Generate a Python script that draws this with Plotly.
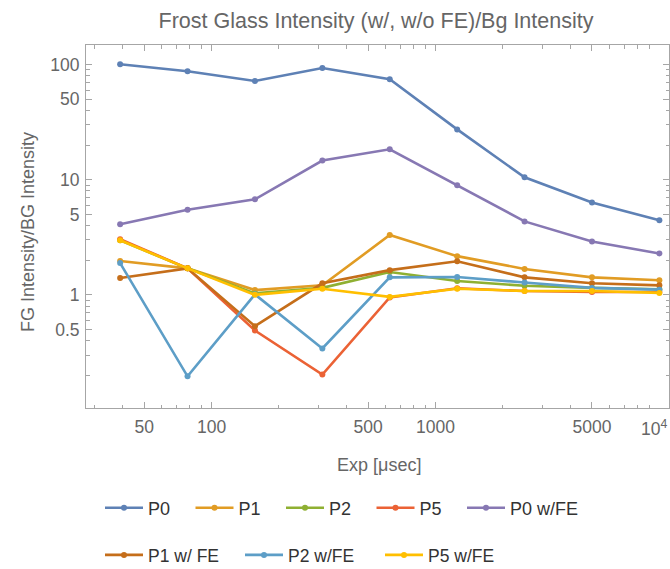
import plotly.graph_objects as go
import numpy as np

exp_us = [39.0625, 78.125, 156.25, 312.5, 625, 1250, 2500, 5000, 10000]

p0 = [100.8, 87.6, 72.2, 93.6, 74.7, 27.4, 10.5, 6.36, 4.44]
p1 = [1.97, 1.70, 1.10, 1.21, 3.31, 2.17, 1.68, 1.42, 1.34]
p2 = [2.98, 1.70, 1.03, 1.15, 1.58, 1.32, 1.20, 1.15, 1.12]
p5 = [3.05, 1.70, 0.49, 0.203, 0.95, 1.14, 1.08, 1.06, 1.06]
p0_fe = [4.10, 5.49, 6.76, 14.7, 18.4, 8.94, 4.35, 2.91, 2.29]
p1_fe = [1.40, 1.70, 0.534, 1.26, 1.64, 1.96, 1.42, 1.26, 1.21]
p2_fe = [1.89, 0.196, 1.01, 0.342, 1.42, 1.43, 1.28, 1.15, 1.11]
p5_fe = [2.98, 1.70, 1.00, 1.13, 0.96, 1.13, 1.08, 1.08, 1.04]

names = ["P0", "P1", "P2", "P5", "P0 w/FE", "P1 w/ FE", "P2 w/FE", "P5 w/FE"]
series = [p0, p1, p2, p5, p0_fe, p1_fe, p2_fe, p5_fe]
colors = ["#5E81B5", "#E19C24", "#8FB032", "#EB6235", "#8778B3",
          "#C56E1A", "#5D9EC7", "#FFBF00"]
legend_of = ["legend", "legend", "legend", "legend", "legend3",
             "legend2", "legend2", "legend2"]

x_major = [50, 100, 500, 1000, 5000]
x_major_text = ["50", "100", "500", "1000", "5000"]
x_last = 10000
x_last_label = "10<sup>4</sup>"
x_minor = [30, 40, 60, 70, 80, 90, 200, 300, 400, 600, 700, 800, 900,
           2000, 3000, 4000, 6000, 7000, 8000, 9000]
y_major = [0.5, 1, 5, 10, 50, 100]
y_major_text = ["0.5", "1", "5", "10", "50", "100"]
y_minor = [0.2, 0.3, 0.4, 0.6, 0.7, 0.8, 0.9, 2, 3, 4, 6, 7, 8, 9,
           20, 30, 40, 60, 70, 80, 90]

FONT = "Liberation Sans, Arial, sans-serif"
GRAY = "#666666"
FRAME = "#A6A6A6"

fig = go.Figure()
for nm, ys, c, lg in zip(names, series, colors, legend_of):
    fig.add_trace(go.Scatter(
        x=exp_us, y=ys, name=nm, mode="lines+markers",
        line=dict(color=c, width=2.6),
        marker=dict(color=c, size=6),
        legend=lg,
    ))

axis_common = dict(
    type="log", showgrid=False, zeroline=False,
    showline=True, linecolor=FRAME, linewidth=1, mirror="ticks",
    ticks="inside", ticklen=6, tickwidth=1, tickcolor=FRAME,
    tickfont=dict(family=FONT, size=17.5, color=GRAY),
)

L, R, T, B = 86, 669, 45, 408
PW, PH = R - L, B - T

def px_x(p):
    return (p - L) / PW

def px_y(p):
    return (B - p) / PH

def legend_style(size):
    return dict(orientation="h", xanchor="left", yanchor="middle",
                entrywidthmode="pixels", itemwidth=38,
                font=dict(family=FONT, size=size, color="#333333"),
                bgcolor="rgba(0,0,0,0)")

tick_len = 6 / PH
fig.update_layout(
    width=670, height=569,
    margin=dict(l=L, r=670 - R, t=T, b=569 - B, autoexpand=False),
    plot_bgcolor="white", paper_bgcolor="white",
    showlegend=True,
    title=dict(text="Frost Glass Intensity (w/, w/o FE)/Bg Intensity",
               x=376 / 670, xanchor="center", y=1 - 20 / 569, yanchor="middle",
               font=dict(family=FONT, size=21.5, color=GRAY)),
    xaxis=dict(axis_common, range=[1.4393, 4.043],
               tickmode="array", tickvals=x_major, ticktext=x_major_text,
               ticklabelstandoff=3,
               minor=dict(tickmode="array", tickvals=x_minor, ticks="inside",
                          ticklen=3.5, tickcolor=FRAME, tickwidth=1)),
    yaxis=dict(axis_common, range=[-0.983, 2.171],
               tickmode="array", tickvals=y_major, ticktext=y_major_text,
               ticklabelstandoff=2,
               minor=dict(tickmode="array", tickvals=y_minor, ticks="inside",
                          ticklen=3.5, tickcolor=FRAME, tickwidth=1)),
    legend=dict(legend_style(18), x=px_x(100), y=px_y(508), entrywidth=37.5),
    legend3=dict(legend_style(18), x=px_x(462), y=px_y(508), entrywidth=80),
    legend2=dict(legend_style(17.5), x=px_x(100), y=px_y(555), entrywidth=87),
    shapes=[
        dict(type="line", xref="x", yref="paper", x0=np.log10(x_last), x1=np.log10(x_last),
             y0=0, y1=tick_len, line=dict(color=FRAME, width=1)),
        dict(type="line", xref="x", yref="paper", x0=np.log10(x_last), x1=np.log10(x_last),
             y0=1 - tick_len, y1=1, line=dict(color=FRAME, width=1)),
    ],
    annotations=[
        dict(text="Exp [μsec]", xref="paper", yref="paper",
             x=px_x(379), y=px_y(465), xanchor="center", yanchor="middle",
             showarrow=False, font=dict(family=FONT, size=18, color=GRAY)),
        dict(text="FG Intensity/BG Intensity", xref="paper", yref="paper",
             x=px_x(28), y=px_y(232), xanchor="center", yanchor="middle",
             textangle=-90, showarrow=False,
             font=dict(family=FONT, size=18, color=GRAY)),
        dict(text=x_last_label, xref="x", yref="paper",
             x=np.log10(x_last), y=px_y(428), xanchor="center", yanchor="middle",
             xshift=-5, showarrow=False,
             font=dict(family=FONT, size=17.5, color=GRAY)),
    ],
)

fig.write_html("out.html")
